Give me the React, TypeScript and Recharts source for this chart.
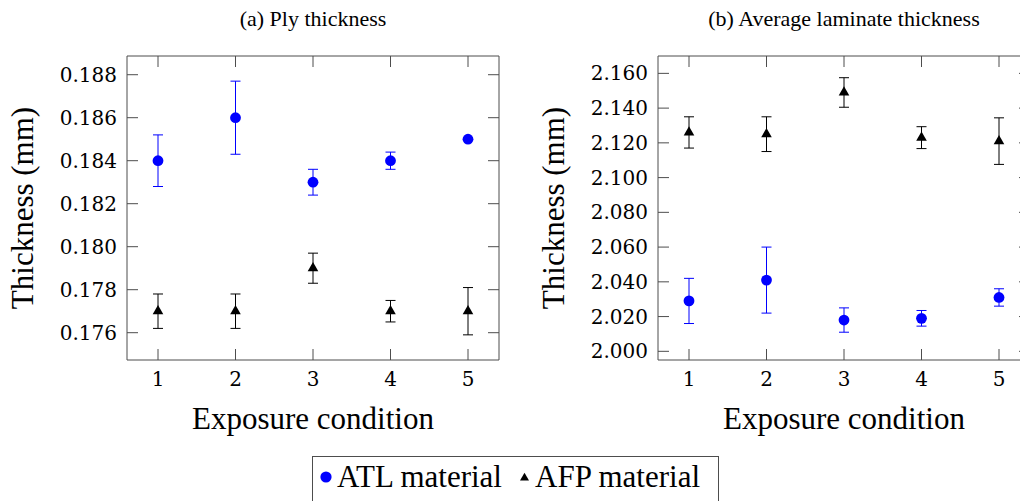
import React from 'react';
import { ScatterChart, Scatter, XAxis, YAxis, ErrorBar } from 'recharts';

// exposure conditions on the x axis
const conditions = [1, 2, 3, 4, 5];

// (a) ply thickness, mm
const plyAtl = [0.184, 0.186, 0.183, 0.184, 0.185];
const plyAtlErr = [0.0012, 0.0017, 0.0006, 0.0004, 0];
const plyAfp = [0.177, 0.177, 0.179, 0.177, 0.177];
const plyAfpErr = [0.0008, 0.0008, 0.0007, 0.0005, 0.0011];
const plyTicks = [0.176, 0.178, 0.18, 0.182, 0.184, 0.186, 0.188];

// (b) average laminate thickness, mm
const lamAtl = [2.029, 2.041, 2.018, 2.019, 2.031];
const lamAtlErr = [0.013, 0.019, 0.007, 0.0045, 0.005];
const lamAfp = [2.126, 2.125, 2.149, 2.123, 2.121];
const lamAfpErr = [0.009, 0.01, 0.0085, 0.0063, 0.0134];
const lamTicks = [2.0, 2.02, 2.04, 2.06, 2.08, 2.1, 2.12, 2.14, 2.16];

type Pt = { x: number; y: number; err: number };
const toPoints = (vals: number[], errs: number[]): Pt[] =>
  conditions.map((c, i) => ({ x: c, y: vals[i], err: errs[i] }));

const TICK_FONT = '"DejaVu Serif", serif';
const LABEL_FONT = '"Liberation Serif", serif';
const FRAME = '#4d4d4d';
const BLUE = '#0000ff';

const H = 501;
const PLOT_TOP = 56;
const PLOT_BOTTOM = 360;
const X_AXIS_H = 40;
const MIRROR = 1; // size of the mirrored top / right axes
const xDomain: [number, number] = [0.6, 5.4];

const Circle = (p: any) => <circle cx={p.cx} cy={p.cy} r={5.4} fill={BLUE} />;

const triPoints = (cx: number, cy: number, s: number) => {
  const r = s / Math.sqrt(3);
  return `${cx},${cy - r} ${cx - s / 2},${cy + r / 2} ${cx + s / 2},${cy + r / 2}`;
};
const Triangle = (p: any) => <polygon points={triPoints(p.cx, p.cy, 10.6)} fill="#000" />;

// mirrored axes: keep the tick marks, drop the labels
const Nothing = () => <g />;

interface PanelProps {
  left: number;
  width: number;
  axisW: number;
  rightM: number;
  title: string;
  domain: [number, number];
  ticks: number[];
  atl: Pt[];
  afp: Pt[];
}

const Panel: React.FC<PanelProps> = ({ left, width, axisW, rightM, title, domain, ticks, atl, afp }) => {
  const plotL = axisW;
  const plotR = width - rightM;
  const mid = (plotL + plotR) / 2;
  const yMid = (PLOT_TOP + PLOT_BOTTOM) / 2;
  const tickStyle = { fontFamily: TICK_FONT, fontSize: 20, fill: '#000' };

  return (
    <div style={{ position: 'absolute', left, top: 0, width, height: H }}>
      <ScatterChart
        width={width}
        height={H}
        margin={{
          top: PLOT_TOP - MIRROR,
          right: rightM - MIRROR,
          bottom: H - PLOT_BOTTOM - X_AXIS_H,
          left: 0,
        }}
      >
        <XAxis
          xAxisId="b"
          type="number"
          dataKey="x"
          domain={xDomain}
          ticks={conditions}
          allowDataOverflow
          interval={0}
          height={X_AXIS_H}
          tickSize={-11}
          tickMargin={23}
          stroke={FRAME}
          tick={tickStyle}
        />
        <XAxis
          xAxisId="t"
          orientation="top"
          type="number"
          dataKey="x"
          domain={xDomain}
          ticks={conditions}
          allowDataOverflow
          interval={0}
          height={MIRROR}
          tickSize={-11}
          tick={Nothing}
          stroke={FRAME}
        />
        <YAxis
          yAxisId="l"
          type="number"
          dataKey="y"
          domain={domain}
          ticks={ticks}
          allowDataOverflow
          interval={0}
          width={axisW}
          tickSize={-11}
          tickMargin={21}
          stroke={FRAME}
          tick={tickStyle}
          tickFormatter={(v: number) => v.toFixed(3)}
        />
        <YAxis
          yAxisId="r"
          orientation="right"
          type="number"
          dataKey="y"
          domain={domain}
          ticks={ticks}
          allowDataOverflow
          interval={0}
          width={MIRROR}
          tickSize={-11}
          tick={Nothing}
          stroke={FRAME}
        />
        {/* invisible series so the mirrored top/right axes get their ticks */}
        <Scatter xAxisId="t" yAxisId="r" data={atl} shape={Nothing} isAnimationActive={false} legendType="none" />
        <Scatter xAxisId="b" yAxisId="l" name="ATL material" data={atl} shape={Circle} isAnimationActive={false}>
          <ErrorBar dataKey="err" direction="y" width={5} stroke={BLUE} strokeWidth={1} isAnimationActive={false} />
        </Scatter>
        <Scatter xAxisId="b" yAxisId="l" name="AFP material" data={afp} shape={Triangle} isAnimationActive={false}>
          <ErrorBar dataKey="err" direction="y" width={5} stroke="#000" strokeWidth={1} isAnimationActive={false} />
        </Scatter>
      </ScatterChart>
      <svg
        width={width}
        height={H}
        style={{ position: 'absolute', left: 0, top: 0, pointerEvents: 'none' }}
      >
        <text x={mid} y={26} textAnchor="middle" fontFamily={LABEL_FONT} fontSize={22} fill="#000">
          {title}
        </text>
        <text x={mid} y={429} textAnchor="middle" fontFamily={LABEL_FONT} fontSize={31} fill="#000">
          Exposure condition
        </text>
        <text
          x={plotL - 94}
          y={yMid}
          transform={`rotate(-90 ${plotL - 94} ${yMid})`}
          textAnchor="middle"
          fontFamily={LABEL_FONT}
          fontSize={31}
          fill="#000"
        >
          Thickness (mm)
        </text>
      </svg>
    </div>
  );
};

export default function App() {
  return (
    <div
      style={{
        position: 'absolute',
        left: 0,
        top: 0,
        width: 1020,
        height: H,
        overflow: 'hidden',
        background: '#fff',
      }}
    >
      <Panel
        left={0}
        width={520}
        axisW={127}
        rightM={21}
        title="(a) Ply thickness"
        domain={[0.17473, 0.18887]}
        ticks={plyTicks}
        atl={toPoints(plyAtl, plyAtlErr)}
        afp={toPoints(plyAfp, plyAfpErr)}
      />
      <Panel
        left={520}
        width={520}
        axisW={138}
        rightM={10}
        title="(b) Average laminate thickness"
        domain={[1.995, 2.17]}
        ticks={lamTicks}
        atl={toPoints(lamAtl, lamAtlErr)}
        afp={toPoints(lamAfp, lamAfpErr)}
      />
      <svg width={1020} height={H} style={{ position: 'absolute', left: 0, top: 0, pointerEvents: 'none' }}>
        <rect x={312.5} y={456.5} width={406} height={70} fill="none" stroke={FRAME} strokeWidth={1} />
        <circle cx={326} cy={477} r={5.6} fill={BLUE} />
        <text x={337} y={487} fontFamily={LABEL_FONT} fontSize={31} fill="#000">
          ATL material
        </text>
        <polygon points={triPoints(524.5, 478, 9)} fill="#000" />
        <text x={535} y={487} fontFamily={LABEL_FONT} fontSize={31} fill="#000">
          AFP material
        </text>
      </svg>
    </div>
  );
}
